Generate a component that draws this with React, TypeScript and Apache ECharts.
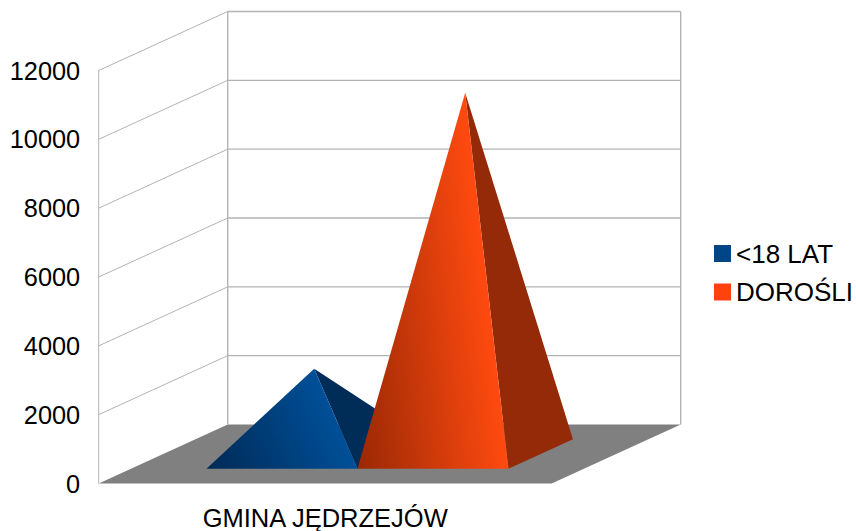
import React, { useEffect, useRef } from "react";
import * as echarts from "echarts";

const categories = ["GMINA JĘDRZEJÓW"];
const yTicks = [0, 2000, 4000, 6000, 8000, 10000, 12000];
const youthValues = [2480];
const adultValues = [10500];
const FONT = '"Liberation Sans", Arial, sans-serif';
const DX = 129;
const DY = -59;

function wallItem(_p: any, api: any) {
  const tick = api.value(1);
  const [x0, y] = api.coord([0, tick]);
  const w = api.size([1, 0])[0];
  const left = x0 - w / 2;
  const line = "#b3b3b3";
  const children: any[] = [];
  if (tick === 0) {
    const top = api.coord([0, yTicks[yTicks.length - 1]])[1];
    children.push({
      type: "polygon",
      shape: { points: [[left, y], [left + w, y], [left + w + DX, y + DY], [left + DX, y + DY]] },
      style: { fill: "#808080" },
    });
    children.push({
      type: "line",
      shape: { x1: left, y1: y, x2: left, y2: top },
      style: { stroke: line, lineWidth: 1, fill: "none" },
    });
    children.push({
      type: "line",
      shape: { x1: left + DX, y1: y + DY, x2: left + DX, y2: top + DY },
      style: { stroke: line, lineWidth: 1.4, fill: "none" },
    });
    children.push({
      type: "line",
      shape: { x1: left + w + DX, y1: y + DY, x2: left + w + DX, y2: top + DY },
      style: { stroke: line, lineWidth: 1.4, fill: "none" },
    });
  } else {
    children.push({
      type: "line",
      shape: { x1: left, y1: y, x2: left + DX, y2: y + DY },
      style: { stroke: line, lineWidth: 1, fill: "none" },
    });
    children.push({
      type: "line",
      shape: { x1: left + DX, y1: y + DY, x2: left + w + DX, y2: y + DY },
      style: { stroke: line, lineWidth: 1.4, fill: "none" },
    });
  }
  return { type: "group", children };
}

function pyramid(slot: number, dark: string, bright: string, side: string) {
  return (_p: any, api: any) => {
    const base = api.coord([0, 0]);
    const peak = api.coord([0, api.value(1)]);
    const w = api.size([1, 0])[0];
    const bw = w / 3;
    const x0 = base[0] - w / 2 + w / 6 + slot * bw;
    const fy = base[1] + 0.25 * DY;
    const fx = 0.25 * DX;
    const fl = [x0 + fx, fy];
    const fr = [x0 + fx + bw, fy];
    const br = [x0 + bw + 0.75 * DX, base[1] + 0.75 * DY];
    const apex = [x0 + bw / 2 + 0.5 * DX, peak[1] + 0.5 * DY];
    const ex = apex[0] - fr[0];
    const ey = apex[1] - fr[1];
    const t = ((fl[0] - fr[0]) * ex + (fl[1] - fr[1]) * ey) / (ex * ex + ey * ey);
    const foot = [fr[0] + ex * t, fr[1] + ey * t];
    return {
      type: "group",
      children: [
        { type: "polygon", shape: { points: [fr, br, apex] }, style: { fill: side } },
        {
          type: "polygon",
          shape: { points: [fl, fr, apex] },
          style: {
            fill: new echarts.graphic.LinearGradient(
              fl[0],
              fl[1],
              foot[0],
              foot[1],
              [
                { offset: 0, color: dark },
                { offset: 1, color: bright },
              ],
              true
            ),
          },
        },
      ],
    };
  };
}

export default function App() {
  const ref = useRef<HTMLDivElement>(null);
  useEffect(() => {
    document.body.style.margin = "0";
    const chart = echarts.init(ref.current!, null, { renderer: "svg" });
    chart.setOption({
      animation: false,
      backgroundColor: "#ffffff",
      grid: { left: 98.7, right: 304.3, top: 70.5, bottom: 47.5 },
      xAxis: {
        type: "category",
        data: categories,
        axisLine: { show: false },
        axisTick: { show: false },
        axisLabel: { color: "#000", fontFamily: FONT, fontSize: 25.5, margin: 21.5 },
      },
      yAxis: {
        type: "value",
        min: 0,
        max: 12000,
        interval: 2000,
        axisLine: { show: false },
        axisTick: { show: false },
        splitLine: { show: false },
        axisLabel: {
          color: "#000",
          fontFamily: FONT,
          fontSize: 25.33,
          margin: 18.5,
          padding: [2, 0, 0, 0],
          formatter: (v: number) => String(v),
        },
      },
      legend: {
        left: 709,
        top: 235.5,
        orient: "vertical",
        selectedMode: false,
        icon: "rect",
        itemWidth: 17,
        itemHeight: 17,
        itemGap: 12.5,
        data: ["<18 LAT", "DOROŚLI"],
        textStyle: { color: "#000", fontFamily: FONT, fontSize: 26 },
      },
      series: [
        {
          type: "custom",
          name: "walls",
          data: yTicks.map((t) => [0, t]),
          renderItem: wallItem,
          silent: true,
          z: 1,
        },
        {
          type: "custom",
          name: "<18 LAT",
          data: youthValues.map((v) => [0, v]),
          renderItem: pyramid(0, "#002a55", "#004f98", "#002c58"),
          itemStyle: { color: "#004586" },
          z: 2,
        },
        {
          type: "custom",
          name: "DOROŚLI",
          data: adultValues.map((v) => [0, v]),
          renderItem: pyramid(1, "#992805", "#ff4a10", "#942a08"),
          itemStyle: { color: "#ff420e" },
          z: 3,
        },
      ],
    });
    return () => chart.dispose();
  }, []);
  return <div ref={ref} style={{ position: "absolute", left: 0, top: 0, width: 856, height: 531 }} />;
}
